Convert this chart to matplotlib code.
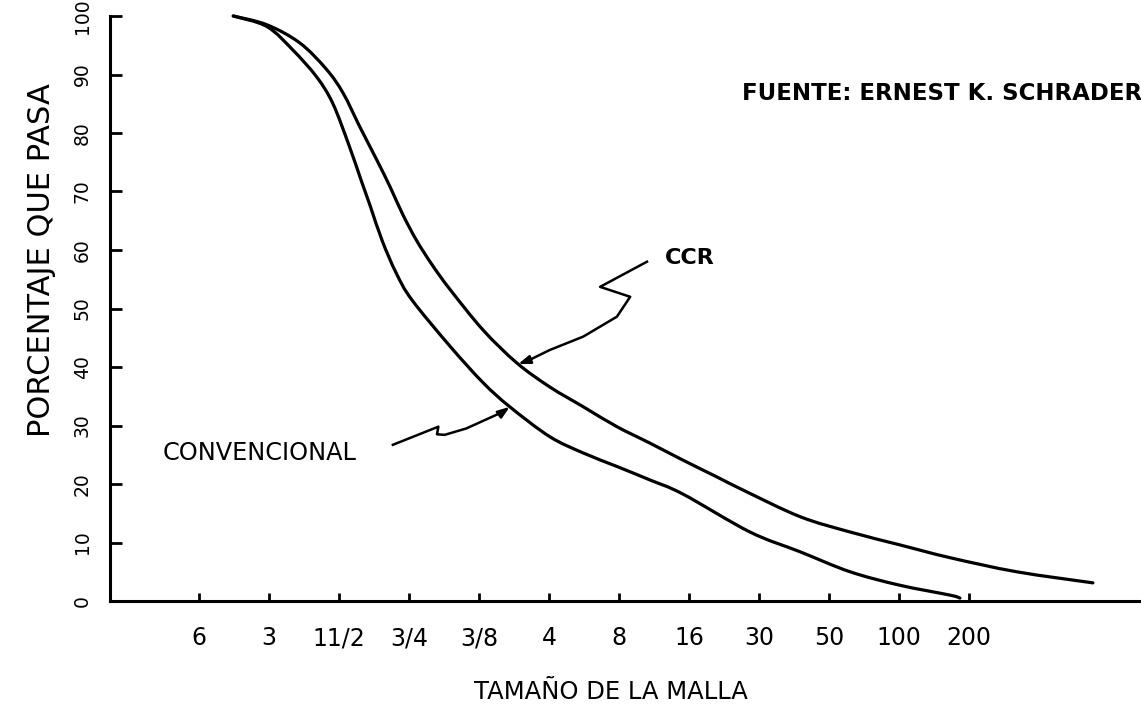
import matplotlib
matplotlib.use("Agg")
import matplotlib.pyplot as plt
from matplotlib.path import Path
from matplotlib.patches import PathPatch

# Sieve sizes (left = coarsest) and percent-passing axis
sieve_labels = ['6', '3', '11/2', '3/4', '3/8', '4', '8', '16', '30', '50', '100', '200']
pct_ticks = [0, 10, 20, 30, 40, 50, 60, 70, 80, 90, 100]

# Grading curves: position measured in sieve steps from the 6" sieve, percent passing
ccr_pos = [0.49, 0.97, 1.44, 1.82, 2.06, 2.30, 2.54, 2.73, 2.91, 3.11, 3.34, 3.59,
           4.06, 4.54, 5.01, 5.49, 5.97, 6.44, 6.91, 7.40, 7.80, 8.59, 9.30, 10.01,
           10.73, 11.68, 12.77]
ccr_pct = [100.0, 98.5, 95.4, 90.9, 86.8, 81.0, 75.4, 70.8, 66.1, 61.6, 57.3, 53.2,
           46.3, 40.7, 36.6, 33.2, 29.8, 27.0, 24.1, 21.2, 18.8, 14.4, 11.8, 9.6,
           7.4, 5.0, 3.1]

conv_pos = [0.49, 0.97, 1.34, 1.68, 1.91, 2.14, 2.32, 2.45, 2.62, 2.82, 3.04, 3.59,
            4.06, 4.44, 5.01, 5.49, 5.97, 6.44, 6.91, 7.87, 8.59, 9.30, 10.01, 10.73,
            10.87]
conv_pct = [100.0, 98.2, 94.2, 89.6, 85.1, 78.0, 71.8, 67.4, 61.5, 56.0, 51.5, 43.5,
            37.3, 33.2, 28.1, 25.3, 23.0, 20.7, 18.3, 11.8, 8.4, 5.0, 2.7, 1.0,
            0.5]


def smooth_path(xs, ys):
    """Bezier path through the given points (Catmull-Rom tangents)."""
    pts = list(zip(xs, ys))
    n = len(pts)
    verts = [pts[0]]
    codes = [Path.MOVETO]
    for i in range(n - 1):
        p0 = pts[i - 1] if i > 0 else pts[i]
        p1 = pts[i]
        p2 = pts[i + 1]
        p3 = pts[i + 2] if i + 2 < n else pts[i + 1]
        c1 = (p1[0] + (p2[0] - p0[0]) / 6, p1[1] + (p2[1] - p0[1]) / 6)
        c2 = (p2[0] - (p3[0] - p1[0]) / 6, p2[1] - (p3[1] - p1[1]) / 6)
        verts += [c1, c2, p2]
        codes += [Path.CURVE4] * 3
    return Path(verts, codes)


W, H = 1141, 709
fig = plt.figure(figsize=(W / 100, H / 100), dpi=100)
ax = fig.add_axes([110 / W, 1 - 601 / H, 1031 / W, 585 / H])
ax.set_xlim(-1.271, 13.457)
ax.set_ylim(0, 100)

ink = 'black'
for side in ('top', 'right'):
    ax.spines[side].set_visible(False)
for side in ('left', 'bottom'):
    ax.spines[side].set_linewidth(2.2)
    ax.spines[side].set_color(ink)

ax.set_xticks(range(len(sieve_labels)))
ax.set_xticklabels(sieve_labels, fontsize=17)
ax.set_yticks(pct_ticks)
ax.set_yticklabels([str(v) for v in pct_ticks], fontsize=13.5, rotation=90, va='center')
ax.tick_params(axis='x', direction='in', length=6, width=2, pad=18, colors=ink)
ax.tick_params(axis='y', direction='in', length=8.5, width=2, pad=13, colors=ink)

ax.set_xlabel('TAMAÑO DE LA MALLA', fontsize=17.5)
ax.xaxis.set_label_coords(0.486, -0.1556)
ax.xaxis.label.set_va('center')
ax.set_ylabel('PORCENTAJE QUE PASA', fontsize=22)
ax.yaxis.set_label_coords(-0.066, 0.583)
ax.yaxis.label.set_va('center')

# Grading curves
for xs, ys in ((ccr_pos, ccr_pct), (conv_pos, conv_pct)):
    ax.add_patch(PathPatch(smooth_path(xs, ys), fill=False, edgecolor=ink, lw=2.3,
                           capstyle='round', clip_on=False))

# Labels with hand-drawn leader lines
ax.text(7.757, 86.8, 'FUENTE: ERNEST K. SCHRADER', fontsize=16.5, fontweight='bold',
        ha='left', va='center')
ax.text(6.65, 58.6, 'CCR', fontsize=16, fontweight='bold', ha='left', va='center')
ax.text(-0.514, 25.3, 'CONVENCIONAL', fontsize=17.3, ha='left', va='center')

ccr_leader = [(6.40, 58.0), (5.73, 53.7), (6.16, 52.0), (5.97, 48.6), (5.49, 45.2),
              (5.01, 42.9), (4.72, 41.2)]
conv_leader = [(2.77, 26.7), (3.42, 29.8), (3.40, 28.5), (3.51, 28.4), (3.82, 29.5),
               (4.30, 32.1), (4.36, 32.5)]
for pts, tip in ((ccr_leader, (4.56, 40.5)), (conv_leader, (4.44, 33.2))):
    ax.plot([p[0] for p in pts], [p[1] for p in pts], color=ink, lw=1.8,
            solid_joinstyle='round')
    ax.annotate('', xy=tip, xytext=pts[-1],
                arrowprops=dict(arrowstyle='-|>,head_length=0.7,head_width=0.25',
                                color=ink, lw=1.8, shrinkA=0, shrinkB=0))

fig.savefig('out.png', dpi=100)
